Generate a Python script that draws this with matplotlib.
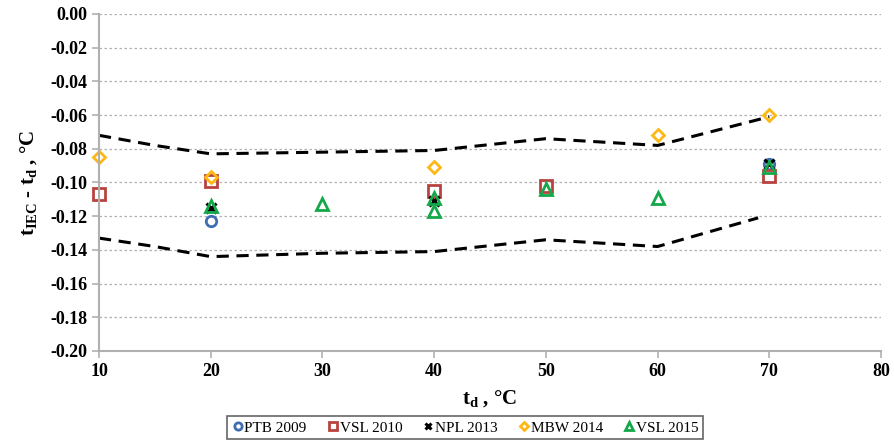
import matplotlib.pyplot as plt

plt.rcParams['font.family'] = ['Liberation Serif', 'DejaVu Serif']
plt.rcParams['mathtext.fontset'] = 'custom'
plt.rcParams['mathtext.rm'] = 'Liberation Serif:bold'
plt.rcParams['mathtext.it'] = 'Liberation Serif:bold'
plt.rcParams['mathtext.bf'] = 'Liberation Serif:bold'

# data
ptb_x = [20, 70]
ptb_y = [-0.123, -0.089]
vsl10_x = [10, 20, 40, 50, 70]
vsl10_y = [-0.107, -0.099, -0.105, -0.102, -0.096]
npl_x = [20, 40, 70]
npl_y = [-0.115, -0.111, -0.089]
mbw_x = [10, 20, 40, 60, 70]
mbw_y = [-0.085, -0.097, -0.091, -0.072, -0.060]
vsl15_x = [20, 30, 40, 40, 50, 60, 70]
vsl15_y = [-0.114, -0.113, -0.109, -0.117, -0.104, -0.109, -0.091]

upper_x = [10, 15, 20, 30, 40, 50, 60, 70]
upper_y = [-0.072, -0.078, -0.083, -0.082, -0.081, -0.074, -0.078, -0.061]
lower_x = [10, 15, 20, 30, 40, 50, 60, 69]
lower_y = [-0.133, -0.138, -0.144, -0.142, -0.141, -0.134, -0.138, -0.121]

fig = plt.figure(figsize=(8.94, 4.43), dpi=100)
ax = fig.add_axes([0.1107, 0.2077, 0.8748, 0.7607])

ax.plot(upper_x, upper_y, color='black', linestyle=(0, (4, 2.5)), linewidth=2.2)
ax.plot(lower_x, lower_y, color='black', linestyle=(0, (4, 2.5)), linewidth=2.2)

ax.plot(ptb_x, ptb_y, 'o', mfc='none', mec='#3F6DB3', mew=2, ms=7.5, label='PTB 2009', clip_on=False)
ax.plot(vsl10_x, vsl10_y, 's', mfc='none', mec='#B8433E', mew=2, ms=8.5, label='VSL 2010', clip_on=False)
ax.plot(npl_x, npl_y, 'x', color='black', mew=2.2, ms=7, label='NPL 2013', clip_on=False)
ax.plot(mbw_x, mbw_y, 'D', mfc='none', mec='#FDB813', mew=2, ms=6.5, label='MBW 2014', clip_on=False)
ax.plot(vsl15_x, vsl15_y, '^', mfc='none', mec='#13A84A', mew=2, ms=9, label='VSL 2015', clip_on=False)

ax.set_xlim(10, 80)
ax.set_ylim(-0.20, 0.0)
ax.set_xticks(range(10, 81, 10))
ax.set_yticks([i * -0.02 for i in range(11)])
ax.set_yticklabels([f'{-i * 0.02:.2f}' if i else '0.00' for i in range(11)])
ax.tick_params(labelsize=13, color='#b0b0b0', length=5, width=1.2)
for lab in ax.get_xticklabels() + ax.get_yticklabels():
    lab.set_fontweight('bold')

ax.grid(axis='y', color='#b0b0b0', linestyle=(0, (2, 2)), linewidth=0.9)
for s in ['top', 'right']:
    ax.spines[s].set_visible(False)
for s in ['left', 'bottom']:
    ax.spines[s].set_color('#b0b0b0')
    ax.spines[s].set_linewidth(1.5)

ax.set_xlabel(r'$\mathregular{t_d}$ , °C', fontsize=15, fontweight='bold', labelpad=6)
ax.set_ylabel(r'$\mathregular{t_{IEC}}$ - $\mathregular{t_d}$ , °C', fontsize=15, fontweight='bold', labelpad=8)

leg = fig.legend(loc='lower center', bbox_to_anchor=(0.52, 0.0), ncol=5, fontsize=11,
                 frameon=True, fancybox=False, edgecolor='#404040', handletextpad=0.05,
                 columnspacing=1.3, handlelength=0.8, borderpad=0.3, markerscale=0.7,
                 borderaxespad=0.25)
leg.get_frame().set_linewidth(1.2)

plt.savefig('out.png', dpi=100)
